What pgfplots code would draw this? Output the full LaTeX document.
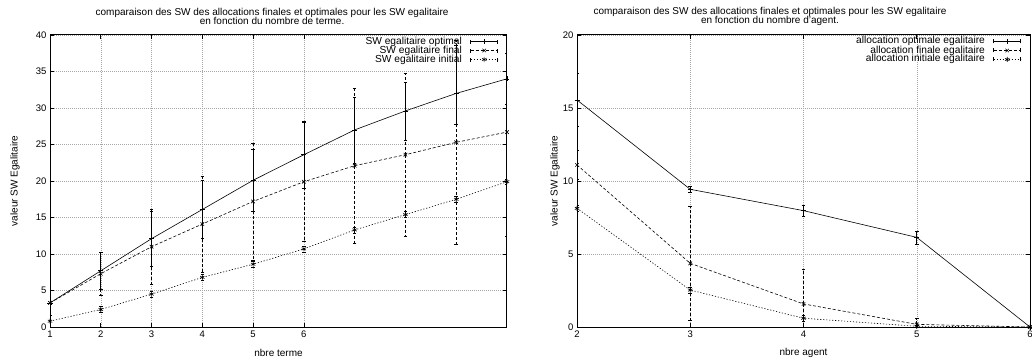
\documentclass[border=0pt]{standalone}
\usepackage{fontspec}
\setmainfont{Liberation Sans}
\usepackage{pgfplots}
\pgfplotsset{compat=1.18}
\begin{document}
\begin{tikzpicture}
\pgfplotsset{
  myaxis/.style={
    scale only axis, height=292pt, anchor=south west,
    font=\fontsize{10}{9.5}\selectfont,
    /pgf/number format/assume math mode=true,
    tick label style={font=\fontsize{9.5}{9.5}\selectfont},
    grid=major,
    major grid style={gray!70, dash pattern=on 0.8pt off 1.2pt, line width=0.5pt},
    axis line style={line width=1pt},
    tick style={black, line width=0.6pt}, major tick length=4pt,
    every axis title shift=0pt,
    title style={align=center, font=\fontsize{10}{9.5}\selectfont},
    every axis x label/.style={at={(axis description cs:0.5,0)}, anchor=center, yshift=-26pt},
    legend style={draw=none, fill=none, at={(axis description cs:1,1)}, anchor=north east,
      xshift=-9pt, yshift=-2pt, legend cell align=right, inner sep=0pt, outer sep=0pt,
      nodes={inner sep=0.5pt, text height=6.5pt, text depth=1.5pt},
      row sep=0pt, font=\fontsize{10.2}{10}\selectfont},
    legend plot pos=right,
    legend image code/.code={
      \path (0pt,0pt);
      \draw[##1, mark=none] (8pt,0pt) -- (35pt,0pt);
      \draw[##1, solid, mark=none] (8pt,-2pt) -- (8pt,2pt) (35pt,-2pt) -- (35pt,2pt);
      \draw[##1] plot coordinates {(21.5pt,0pt)};
    },
  },
  sopt/.style={black, line width=0.6pt, solid, mark=+, mark size=2.5pt, mark options={solid},
    error bars/.cd, y dir=both, y explicit,
    error bar style={line width=0.6pt, solid},
    error mark options={rotate=90, mark size=1.8pt, solid, black}},
  sfin/.style={black, line width=0.6pt, dash pattern=on 3pt off 2pt, mark=x, mark size=2.5pt, mark options={solid},
    error bars/.cd, y dir=both, y explicit,
    error bar style={line width=0.6pt, dash pattern=on 3pt off 2pt},
    error mark options={rotate=90, mark size=1.8pt, solid, black}},
  sini/.style={black, line width=0.6pt, dash pattern=on 1.2pt off 1.8pt, mark=asterisk, mark size=2.5pt, mark options={solid},
    error bars/.cd, y dir=both, y explicit,
    error bar style={line width=0.6pt, dash pattern=on 1.2pt off 1.8pt},
    error mark options={rotate=90, mark size=1.8pt, solid, black}},
}
\begin{axis}[myaxis, at={(50pt,35pt)}, width=457pt,
  xmin=1, xmax=10, xtick={1,2,3,4,5,6},
  ymin=0, ymax=40, ytick={0,5,...,40},
  title style={at={(axis description cs:0.486,1.063)}, anchor=center, yshift=0pt},
  title={comparaison des SW des allocations finales et optimales pour les SW egalitaire\\en fonction du nombre de terme.},
  xlabel={nbre terme},
  ylabel={valeur SW Egalitaire},
  every axis y label/.style={at={(axis description cs:-0.0766,0.5)}, rotate=90, anchor=center},
]
\addplot+[sopt] coordinates {
 (1,3.3) +- (0,0.2)
 (2,7.7) +- (0,2.5)
 (3,12.1) +- (0,3.8)
 (4,16.1) +- (0,4.0)
 (5,20.1) +- (0,4.2)
 (6,23.6) +- (0,4.6)
 (7,27.0) +- (0,4.5)
 (8,29.6) +- (0,4.0)
 (9,32.0) += (0,6.6) -= (0,4.2)
 (10,34.0) +- (0,3.5)
};
\addlegendentry{SW egalitaire optimal}
\addplot+[sfin] coordinates {
 (1,3.3) +- (0,0.2)
 (2,7.3) +- (0,3.0)
 (3,11.0) +- (0,5.1)
 (4,14.1) +- (0,6.6)
 (5,17.2) +- (0,8.0)
 (6,19.9) +- (0,8.1)
 (7,22.1) +- (0,10.6)
 (8,23.6) +- (0,11.2)
 (9,25.3) +- (0,14.0)
 (10,26.7) +- (0,14.3)
};
\addlegendentry{SW egalitaire final}
\addplot+[sini] coordinates {
 (1,0.8) +- (0,0.8)
 (2,2.4) +- (0,0.4)
 (3,4.5) +- (0,0.4)
 (4,6.8) +- (0,0.4)
 (5,8.6) +- (0,0.4)
 (6,10.7) +- (0,0.4)
 (7,13.3) +- (0,0.4)
 (8,15.4) +- (0,0.4)
 (9,17.5) +- (0,0.4)
 (10,19.9) +- (0,0.4)
};
\addlegendentry{SW egalitaire initial}
\end{axis}
\begin{axis}[myaxis, at={(577pt,35pt)}, width=453pt,
  xmin=2, xmax=6, xtick={2,3,4,5,6},
  ymin=0, ymax=20, ytick={0,5,...,20},
  title style={at={(axis description cs:0.426,1.063)}, anchor=center, yshift=0pt},
  title={comparaison des SW des allocations finales et optimales pour les SW egalitaire\\en fonction du nombre d'agent.},
  xlabel={nbre agent},
  ylabel={valeur SW Egalitaire},
  every axis y label/.style={at={(axis description cs:-0.0486,0.5)}, rotate=90, anchor=center},
]
\addplot+[sopt] coordinates {
 (2,15.55) +- (0,1.8)
 (3,9.43) +- (0,0.2)
 (4,7.97) +- (0,0.4)
 (5,6.14) +- (0,0.45)
 (6,0) +- (0,0)
};
\addlegendentry{allocation optimale egalitaire}
\addplot+[sfin] coordinates {
 (2,11.1) +- (0,1.0)
 (3,4.36) +- (0,3.9)
 (4,1.58) +- (0,2.4)
 (5,0.18) +- (0,0.4)
 (6,0) +- (0,0)
};
\addlegendentry{allocation finale egalitaire}
\addplot+[sini] coordinates {
 (2,8.13) +- (0,0.2)
 (3,2.53) +- (0,0.2)
 (4,0.6) +- (0,0.2)
 (5,0.05) +- (0,0.1)
 (6,0) +- (0,0)
};
\addlegendentry{allocation initiale egalitaire}
\end{axis}
\pgfresetboundingbox
\path[use as bounding box] (0pt,0pt) rectangle (1032pt,362pt);
\end{tikzpicture}
\end{document}
